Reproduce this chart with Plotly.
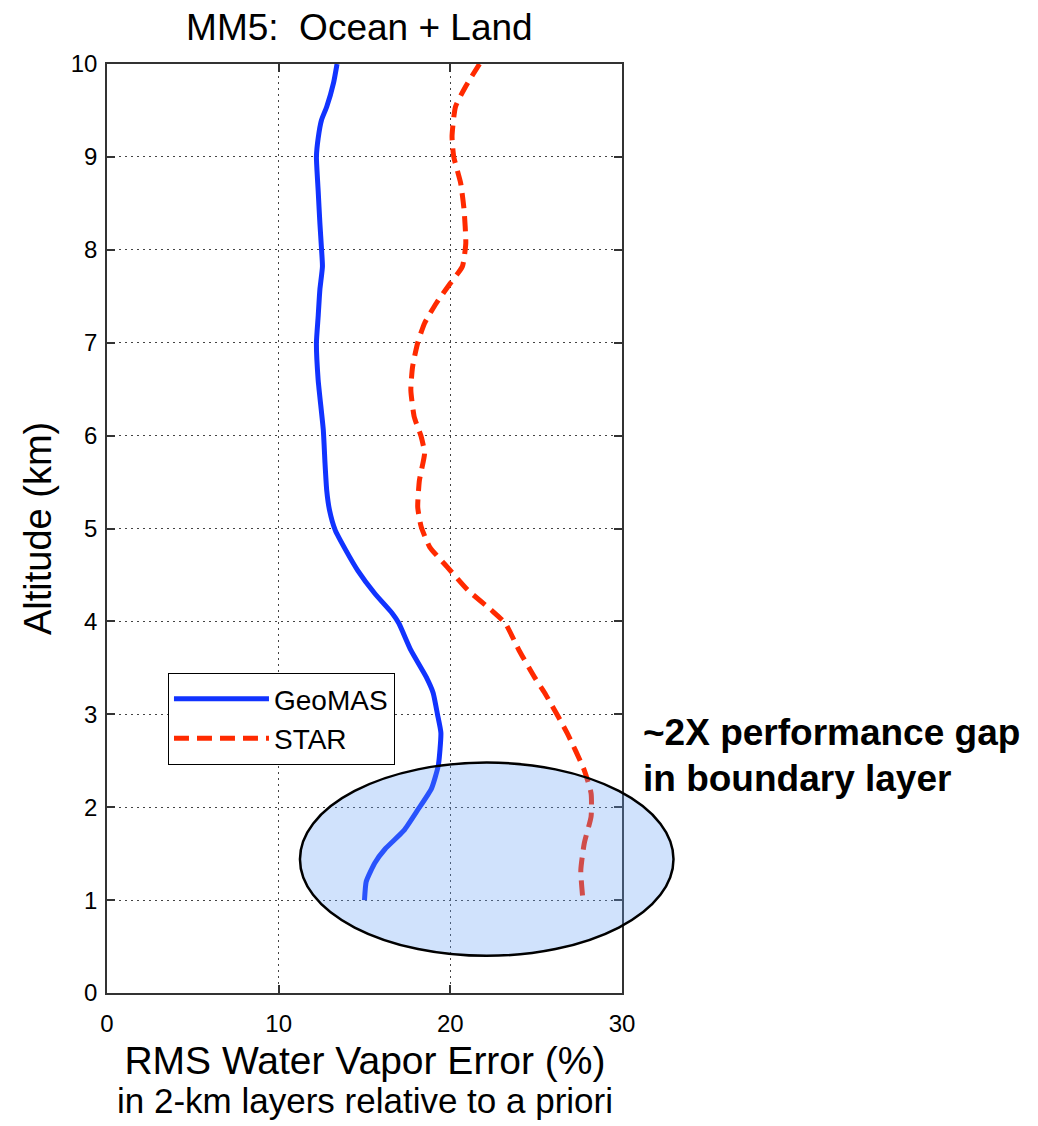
import plotly.graph_objects as go

# RMS water vapor error profiles (%) versus altitude (km)
geomas_alt = [1.0, 1.2, 1.4, 1.55, 1.75, 1.97, 2.2, 2.45, 2.8, 3.0, 3.23, 3.4, 3.69, 3.98,
              4.09, 4.3, 4.55, 4.77, 4.98, 5.2, 5.41, 5.7, 6.06, 6.6, 7.0, 7.28, 7.57,
              7.82, 8.0, 8.29, 8.64, 9.0, 9.2, 9.4, 9.54, 9.8, 10.0]
geomas_err = [15.0, 15.1, 15.6, 16.2, 17.3, 18.1, 18.9, 19.3, 19.45, 19.25, 19.0, 18.6, 17.7, 17.0,
              16.6, 15.6, 14.6, 13.9, 13.3, 12.96, 12.8, 12.7, 12.6, 12.3, 12.2, 12.3, 12.4,
              12.55, 12.5, 12.4, 12.3, 12.2, 12.3, 12.5, 12.8, 13.2, 13.4]

star_alt = [1.05, 1.32, 1.61, 1.9, 2.15, 2.4, 2.8, 3.23, 3.4, 3.69, 3.98, 4.12, 4.34, 4.59,
            4.8, 5.02, 5.23, 5.52, 5.81, 5.99, 6.2, 6.49, 6.74, 7.0, 7.21, 7.43, 7.64,
            7.82, 8.07, 8.43, 8.72, 9.0, 9.22, 9.54, 9.76, 10.0]
star_err = [27.7, 27.6, 27.8, 28.2, 28.2, 27.8, 26.8, 25.5, 24.9, 24.0, 23.2, 22.4, 21.0, 19.8,
            18.8, 18.3, 18.1, 18.2, 18.5, 18.3, 17.9, 17.7, 17.8, 18.1, 18.5, 19.2, 20.0,
            20.7, 20.9, 20.8, 20.6, 20.2, 20.1, 20.3, 20.9, 21.7]

x_range = [0, 30]
y_range = [0, 10]
x_ticks = [0, 10, 20, 30]
y_ticks = list(range(0, 11))

# highlighted boundary-layer region (data units)
region_x = [11.24, 33.0]
region_y = [0.40, 2.48]

FONT = "Liberation Sans, Arial, Helvetica, sans-serif"

fig = go.Figure()
fig.add_trace(go.Scatter(
    x=geomas_err, y=geomas_alt, mode="lines", name="GeoMAS", legendgroup="a",
    line=dict(color="#1133ff", width=5, shape="spline", smoothing=0.5),
))
fig.add_trace(go.Scatter(
    x=star_err, y=star_alt, mode="lines", name="STAR", legendgroup="b",
    line=dict(color="#ff2a00", width=5, dash="15px,8px", shape="spline", smoothing=0.5),
))


def to_px(v, r):
    return (v - r[0]) / (r[1] - r[0])


fig.add_shape(
    type="circle", xref="paper", yref="paper", layer="above",
    x0=to_px(region_x[0], x_range), x1=to_px(region_x[1], x_range),
    y0=to_px(region_y[0], y_range), y1=to_px(region_y[1], y_range),
    fillcolor="rgba(100,160,245,0.30)", line=dict(color="black", width=2.5),
)

axis_common = dict(
    showgrid=True, gridcolor="#444444", griddash="1.5px,4.5px", gridwidth=1.2,
    showline=True, linecolor="#333333", linewidth=1.5, mirror="ticks",
    ticks="inside", ticklen=8, tickcolor="#333333", tickwidth=1.5,
    zeroline=False, tickfont=dict(size=24, color="black", family=FONT),
)
fig.update_xaxes(range=x_range, tickvals=x_ticks, ticklabelstandoff=8, **axis_common)
fig.update_yaxes(range=y_range, tickvals=y_ticks, ticklabelstandoff=3, **axis_common)

x_title = ('<span style="font-size:39px">RMS Water Vapor Error (%)</span><br>'
           '<span style="font-size:35px">in 2-km layers relative to a priori</span>')

annotations = [
    dict(text="Altitude (km)", x=-0.134, y=0.5005, textangle=-90,
         font=dict(size=38, color="black", family=FONT)),
    dict(text=x_title, x=0.5, y=(993 - 1079) / 929,
         font=dict(size=30, color="black", family=FONT)),
    dict(text="<b>~2X performance gap</b>", x=1.0369, y=0.2799, xanchor="left",
         font=dict(size=37, color="black", family=FONT)),
    dict(text="<b>in boundary layer</b>", x=1.0369, y=0.2314, xanchor="left",
         font=dict(size=37, color="black", family=FONT)),
]
for a in annotations:
    a.setdefault("xanchor", "center")
    a.update(xref="paper", yref="paper", yanchor="middle", showarrow=False)

fig.update_layout(
    width=1038, height=1126, autosize=False,
    margin=dict(l=107, r=416, t=64, b=133),
    paper_bgcolor="white", plot_bgcolor="white",
    title=dict(text="MM5:  Ocean + Land", x=0.49, xref="paper", xanchor="center",
               y=1 - 27 / 1126, yanchor="middle",
               font=dict(size=37, color="black", family=FONT)),
    legend=dict(x=0.118, y=0.3445, xanchor="left", yanchor="top",
                bgcolor="white", bordercolor="black", borderwidth=1.2,
                font=dict(size=28, color="black", family=FONT),
                itemwidth=95, tracegroupgap=0, traceorder="normal"),
    annotations=annotations,
    showlegend=True,
)

fig.write_html("out.html")
